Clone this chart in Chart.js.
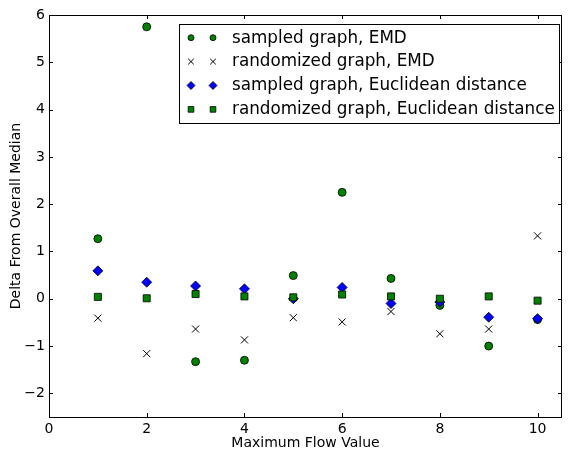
<!DOCTYPE html>
<html>
<head>
<meta charset="utf-8">
<script src="https://cdn.jsdelivr.net/npm/chart.js@4.4.0/dist/chart.umd.min.js"></script>
<style>
html,body{margin:0;padding:0;background:#fff;}
#wrap{width:568px;height:453px;position:relative;}
</style>
</head>
<body>
<div id="wrap"><canvas id="c" width="568" height="453"></canvas></div>
<script>
// ---- data ----
const flowValues = [1, 2, 3, 4, 5, 6, 7, 8, 9, 10];
const sampledEMD = [1.27, 5.75, -1.33, -1.30, 0.49, 2.25, 0.43, -0.14, -1.00, -0.44];
const randomizedEMD = [-0.41, -1.16, -0.64, -0.87, -0.40, -0.49, -0.27, -0.74, -0.64, 1.33];
const sampledEuclid = [0.59, 0.35, 0.27, 0.21, 0.00, 0.24, -0.10, -0.07, -0.39, -0.42];
const randomizedEuclid = [0.04, 0.01, 0.10, 0.05, 0.03, 0.09, 0.05, 0.00, 0.05, -0.04];
const seriesLabels = ['sampled graph, EMD', 'randomized graph, EMD', 'sampled graph, Euclidean distance', 'randomized graph, Euclidean distance'];
const xTicks = [0, 2, 4, 6, 8, 10];
const yTicks = [-2, -1, 0, 1, 2, 3, 4, 5, 6];

const FONT = 'DejaVu Sans';
const toPts = arr => arr.map((v, i) => ({x: flowValues[i], y: v}));
const fmt = v => (v < 0 ? '\u2212' + Math.abs(v) : String(v));

const styles = [
  {pointStyle: 'circle', radius: 4, bg: '#008000', border: '#000', bw: 0.8, lr: 3},
  {pointStyle: 'crossRot', radius: 5, bg: '#000', border: '#000', bw: 1, lr: 4},
  {pointStyle: 'rectRot', radius: 5, bg: '#0000ff', border: '#000', bw: 0.8, lr: 4},
  {pointStyle: 'rect', radius: 5, bg: '#008000', border: '#000', bw: 0.8, lr: 4}
];
const seriesData = [sampledEMD, randomizedEMD, sampledEuclid, randomizedEuclid];

const datasets = seriesData.map((d, i) => ({
  label: seriesLabels[i],
  data: toPts(d),
  showLine: false,
  pointStyle: styles[i].pointStyle,
  pointRadius: styles[i].radius,
  pointHoverRadius: styles[i].radius,
  pointBackgroundColor: styles[i].bg,
  pointBorderColor: styles[i].border,
  pointBorderWidth: styles[i].bw,
  order: 4 - i
}));

const framePlugin = {
  id: 'framePlugin',
  afterDatasetsDraw(chart) {
    const {ctx, chartArea: a, scales: {x, y}} = chart;
    ctx.save();
    ctx.strokeStyle = '#000';
    ctx.lineWidth = 1;
    ctx.beginPath();
    xTicks.forEach(v => {
      const px = Math.round(x.getPixelForValue(v)) + 0.5;
      ctx.moveTo(px, a.bottom); ctx.lineTo(px, a.bottom - 4);
      ctx.moveTo(px, a.top); ctx.lineTo(px, a.top + 4);
    });
    yTicks.forEach(v => {
      const py = Math.round(y.getPixelForValue(v)) + 0.5;
      ctx.moveTo(a.left, py); ctx.lineTo(a.left + 4, py);
      ctx.moveTo(a.right, py); ctx.lineTo(a.right - 4, py);
    });
    ctx.stroke();
    ctx.strokeRect(Math.round(a.left) + 0.5, Math.round(a.top) + 0.5, Math.round(a.right - a.left) - 1, Math.round(a.bottom - a.top));
    // legend
    const lx = 179.5, ly = 24.5, lw = 380, lh = 99;
    ctx.fillStyle = '#fff';
    ctx.fillRect(lx, ly, lw, lh);
    ctx.strokeRect(lx, ly, lw, lh);
    ctx.font = '16.8px "' + FONT + '"';
    ctx.textBaseline = 'middle';
    ctx.textAlign = 'left';
    seriesLabels.forEach((t, i) => {
      const ry = 37.7 + i * 23.9;
      const s = styles[i];
      [191, 213].forEach(mx => {
        ctx.fillStyle = s.bg;
        ctx.strokeStyle = s.border;
        ctx.lineWidth = s.bw;
        Chart.helpers.drawPoint(ctx, {pointStyle: s.pointStyle, radius: s.lr, rotation: 0, borderWidth: s.bw}, mx, ry);
      });
      ctx.fillStyle = '#000';
      ctx.fillText(t, 232, ry + 0.5);
    });
    ctx.restore();
  }
};

new Chart(document.getElementById('c'), {
  type: 'scatter',
  data: {datasets},
  options: {
    responsive: false,
    animation: false,
    events: [],
    layout: {padding: {top: 15, right: 1, left: 0, bottom: 0}},
    plugins: {legend: {display: false}, tooltip: {enabled: false}},
    scales: {
      x: {
        type: 'linear', min: 0, max: 10.5,
        afterFit: s => { s.height = 36; },
        afterBuildTicks: s => { s.ticks = xTicks.map(v => ({value: v})); },
        grid: {display: false, drawTicks: false},
        border: {display: false},
        ticks: {color: '#000', font: {family: FONT, size: 14}, padding: 4, maxRotation: 0, callback: v => fmt(v)},
        title: {display: true, text: 'Maximum Flow Value', color: '#000', font: {family: FONT, size: 14}, padding: {top: 0, bottom: 1}}
      },
      y: {
        type: 'linear', min: -2.5, max: 6,
        afterFit: s => { s.width = 49; },
        afterBuildTicks: s => { s.ticks = yTicks.map(v => ({value: v})); },
        grid: {display: false, drawTicks: false},
        border: {display: false},
        ticks: {color: '#000', font: {family: FONT, size: 14}, padding: 4, callback: v => fmt(v)},
        title: {display: true, text: 'Delta From Overall Median', color: '#000', font: {family: FONT, size: 14}, padding: {top: 8, bottom: 0}}
      }
    }
  },
  plugins: [framePlugin]
});
</script>
</body>
</html>
